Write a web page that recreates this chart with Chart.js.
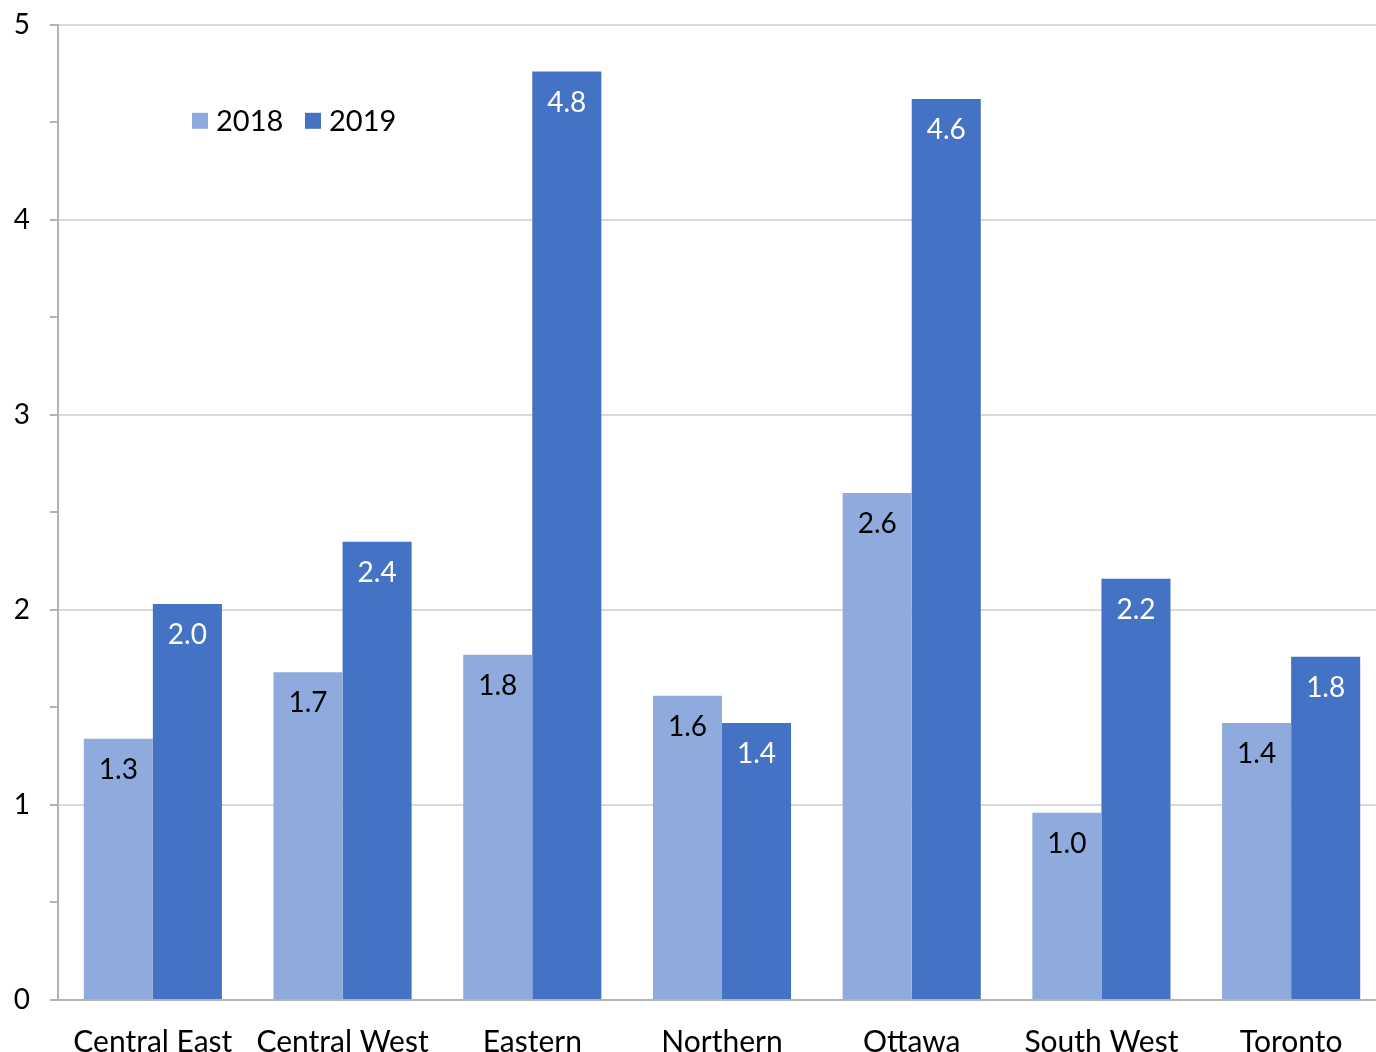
<!DOCTYPE html>
<html>
<head>
<meta charset="utf-8">
<script src="https://cdn.jsdelivr.net/npm/chart.js@4"></script>
<style>
  body { margin: 0; background: #fff; overflow: hidden; }
  canvas { display: block; margin-top: -12px; }
</style>
</head>
<body>
<canvas id="chart" width="1386" height="1064"></canvas>
<script>
const regions = ["Central East", "Central West", "Eastern", "Northern", "Ottawa", "South West", "Toronto"];
const values2018 = [1.34, 1.68, 1.77, 1.56, 2.60, 0.96, 1.42];
const values2019 = [2.03, 2.35, 4.76, 1.42, 4.62, 2.16, 1.76];
const yTicks = [0, 1, 2, 3, 4, 5];

const FONT = "Lato, 'Open Sans', sans-serif";
const color2018 = "#8FAADC";
const color2019 = "#4472C4";

// values printed inside the top of each bar
const barLabels = {
  id: "barLabels",
  afterDatasetsDraw(chart) {
    const ctx = chart.ctx;
    ctx.save();
    ctx.font = "28px " + FONT;
    ctx.textAlign = "center";
    ctx.textBaseline = "middle";
    chart.data.datasets.forEach((ds, i) => {
      const meta = chart.getDatasetMeta(i);
      ctx.fillStyle = i === 0 ? "#000" : "#fff";
      meta.data.forEach((bar, j) => {
        ctx.fillText(ds.data[j].toFixed(1), bar.x, bar.y + 31);
      });
    });
    ctx.restore();
  }
};

// legend sits inside the plot, top left
const innerLegend = {
  id: "innerLegend",
  afterDraw(chart) {
    const ctx = chart.ctx;
    const top = chart.chartArea.top;
    const items = [[192, "2018", color2018], [305, "2019", color2019]];
    ctx.save();
    ctx.font = "29px " + FONT;
    ctx.textBaseline = "middle";
    items.forEach(([x, txt, c]) => {
      ctx.fillStyle = c;
      ctx.fillRect(x, top + 88, 16, 16);
      ctx.fillStyle = "#000";
      ctx.fillText(txt, x + 24, top + 97);
    });
    ctx.restore();
  }
};

new Chart(document.getElementById("chart").getContext("2d"), {
  type: "bar",
  data: {
    labels: regions,
    datasets: [
      { label: "2018", data: values2018, backgroundColor: color2018 },
      { label: "2019", data: values2019, backgroundColor: color2019 }
    ]
  },
  options: {
    responsive: false,
    animation: false,
    layout: { padding: { top: 13, right: 0, left: 0, bottom: 0 } },
    plugins: {
      legend: { display: false },
      tooltip: { enabled: false }
    },
    datasets: {
      bar: { categoryPercentage: 0.728, barPercentage: 1.0 }
    },
    scales: {
      x: {
        grid: { display: false, drawTicks: false },
        border: { color: "#b3b3b3", width: 2 },
        ticks: { color: "#000", font: { family: FONT, size: 30 }, padding: 24, maxRotation: 0 },
        afterFit(scale) { scale.height = 52; }
      },
      y: {
        min: 0,
        max: 5,
        border: { color: "#b3b3b3", width: 2 },
        grid: {
          color: ctx => (ctx.tick && Number.isInteger(ctx.tick.value) ? "#d9d9d9" : "rgba(0,0,0,0)"),
          tickColor: "#b3b3b3",
          tickLength: 8,
          lineWidth: 2
        },
        ticks: {
          stepSize: 0.5,
          color: "#000",
          font: { family: FONT, size: 28 },
          padding: 20,
          callback: v => (yTicks.includes(v) ? String(v) : "")
        },
        afterFit(scale) { scale.width = 58; }
      }
    }
  },
  plugins: [barLabels, innerLegend]
});
</script>
</body>
</html>
